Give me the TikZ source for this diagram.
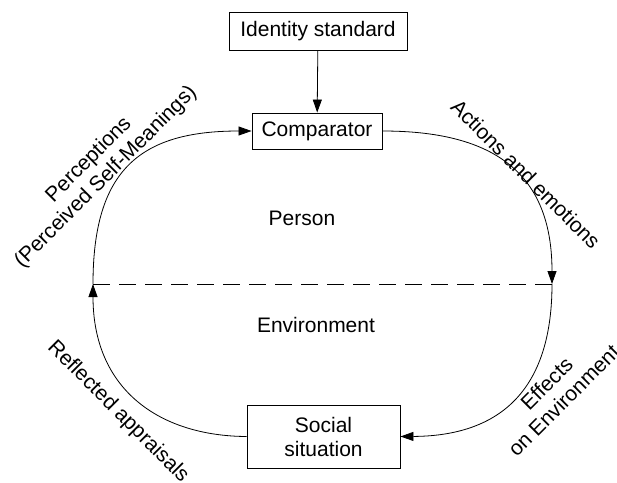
\documentclass[tikz,border=0pt]{standalone}
\usepackage{fontspec}
\setmainfont{Liberation Sans}
\usetikzlibrary{arrows.meta}
\begin{document}
\begin{tikzpicture}[x=1pt,y=-1pt,
  every node/.style={font=\fontsize{21}{24}\selectfont, inner sep=0pt},
  box/.style={draw, line width=0.9pt, minimum width=#1, align=center},
  flow/.style={line width=0.8pt, -{Triangle[length=13pt,width=9pt]}},
  lbl/.style={align=center}]
  \useasboundingbox (0,0) rectangle (617,482);

  % boxes
  \node[box=178pt, minimum height=38pt] (ident) at (318,31) {Identity standard};
  \node[box=130pt, minimum height=36pt] (comp) at (317,131) {Comparator};
  \node[box=153pt, minimum height=63pt] (social) at (323.5,436.5) {Social\\situation};

  % boundary between person and environment
  \coordinate (L) at (93,284);
  \coordinate (R) at (552,284);
  \draw[line width=0.8pt, dash pattern=on 17pt off 9pt] (L) -- (R);

  % feedback loop
  \draw[flow] (ident) -- (comp);
  \draw[flow] (comp.east) .. controls (490,131) and (552,170) .. (R);
  \draw[flow] (R) .. controls (552,400) and (490,436) .. (social.east);
  \draw[flow] (social.west) .. controls (160,436) and (93,390) .. (L);
  \draw[flow] (L) .. controls (93,170) and (140,131) .. (comp.west);

  % region and path labels
  \node (person) at (302,218) {Person};
  \node (env) at (316,325) {Environment};
  \node[lbl, rotate=45] (perc) at (97.5,168.5) {Perceptions\\(Perceived Self-Meanings)};
  \node[lbl, rotate=-45] (act) at (526,174) {Actions and emotions};
  \node[lbl, rotate=-45] (refl) at (118,412) {Reflected appraisals};
  \node[lbl, rotate=45] (eff) at (555,392) {Effects\\on Environment};
\end{tikzpicture}
\end{document}
